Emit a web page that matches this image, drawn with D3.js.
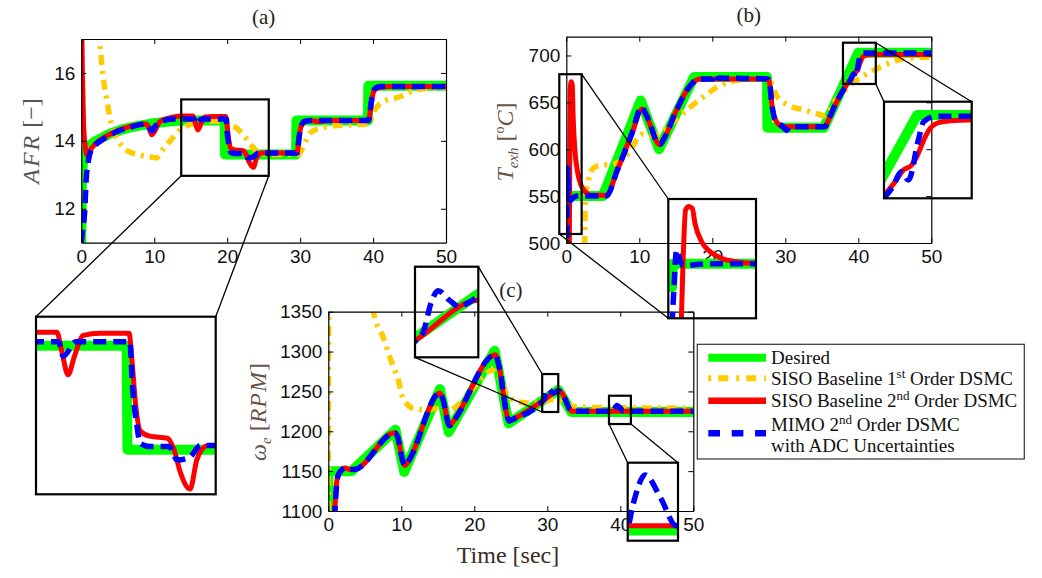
<!DOCTYPE html>
<html><head><meta charset="utf-8">
<script src="https://cdn.jsdelivr.net/npm/d3@7"></script>
<style>
body{margin:0;background:#fff;}
svg{display:block;}
.tick text{font-family:"Liberation Sans",Arial,sans-serif;font-size:19px;fill:#111;}
</style></head><body>
<svg id="chart" width="1042" height="578"></svg>
<script>
// ---------------- DATA ----------------
const timeTicks = [0,10,20,30,40,50];
const afrTicks = [12,14,16];
const texhTicks = [500,550,600,650,700];
const rpmTicks = [1100,1150,1200,1250,1300,1350];

// (a) AFR [-]
const afrDesired = [[0,11],[0.05,12.6],[0.2,13.3],[0.5,13.65],[1,13.85],[2,14.0],[4,14.22],[6,14.36],[8,14.45],[10,14.52],[12,14.57],[14,14.6],[19.65,14.6],[19.7,13.6],[29.45,13.6],[29.5,14.6],[39.3,14.6],[39.35,15.62],[50,15.62]];
const afrFirst = [[2.2,18],[2.5,17],[3.0,15.89],[3.5,15.2],[3.9,14.71],[4.5,14.25],[5.3,13.93],[6.2,13.72],[7.1,13.63],[8.5,13.56],[9.4,13.53],[10.3,13.5],[11.2,13.75],[12.2,14.0],[13.0,14.2],[13.75,14.37],[14.8,14.47],[15.8,14.52],[18.1,14.58],[19.5,14.55],[20.5,14.48],[21.7,14.3],[22.5,14.1],[23.1,13.93],[24,13.7],[25,13.62],[26,13.6],[29.8,13.6],[30.2,13.73],[30.8,14.0],[31.3,14.22],[32.7,14.37],[34.5,14.44],[36.8,14.47],[39.5,14.5],[40,14.81],[41.4,15.15],[43.7,15.3],[45.9,15.5],[48,15.55],[50,15.57]];
const afrSecond = [[0,18.5],[0.15,16.0],[0.3,14.6],[0.5,13.9],[0.82,13.58],[1.2,13.72],[2.0,13.93],[3,14.08],[4,14.2],[5,14.3],[6,14.38],[7,14.44],[8,14.48],[8.9,14.5],[9.3,14.38],[9.65,14.18],[10.1,14.3],[10.7,14.55],[11.5,14.64],[12.5,14.7],[14,14.73],[15.3,14.73],[15.6,14.55],[16.0,14.32],[16.4,14.5],[16.95,14.7],[18,14.72],[19.8,14.72],[19.98,14.46],[20.2,14.05],[20.5,13.78],[21.1,13.73],[22.2,13.71],[22.6,13.6],[23.0,13.38],[23.6,13.22],[24.04,13.51],[24.7,13.64],[25.5,13.64],[29.6,13.64],[29.8,14.0],[30.1,14.4],[30.6,14.56],[31.5,14.6],[32.5,14.57],[34,14.6],[39.4,14.6],[39.6,14.85],[39.9,15.3],[40.3,15.52],[41,15.58],[42,15.6],[50,15.6]];
const afrMimo = [[0,11.0],[0.2,11.4],[0.45,11.86],[0.67,12.85],[1.0,13.45],[1.26,13.68],[1.95,13.88],[3,14.05],[5,14.28],[7,14.42],[8.9,14.5],[9.3,14.38],[9.7,14.3],[10.2,14.45],[11,14.57],[12.5,14.64],[15.4,14.64],[15.7,14.5],[16.5,14.64],[19.85,14.64],[20.0,14.24],[20.3,13.82],[20.5,13.66],[21.1,13.63],[22.3,13.63],[22.8,13.5],[23.6,13.53],[24.25,13.64],[29.6,13.64],[29.8,14.0],[30.1,14.42],[30.6,14.57],[31.5,14.6],[39.4,14.6],[39.6,14.9],[39.9,15.35],[40.3,15.55],[41,15.6],[50,15.6]];

// (b) T_exh [C]
const texhDesired = [[0,500],[0.03,550],[5,550],[10.2,652],[12.7,600],[17.5,677],[27.5,677],[27.55,623],[35.3,623],[40,703],[50,703]];
const texhFirst = [[2.5,470],[2.6,546],[3.0,565],[3.5,578],[4.2,582],[6.0,584],[6.8,585],[8.3,594],[10.5,616],[12,614],[14.2,626],[16.5,642],[18.8,656],[20.6,666],[23.4,673.5],[26.5,675.5],[27.8,674],[28.8,657],[30.7,646],[32.5,642],[34.3,638],[35.3,636],[37,653],[39.3,671],[41.5,681.6],[44.3,692],[46.6,697],[50,698]];
const texhSecond = [[0.35,380],[0.45,560],[0.55,665],[0.68,672],[0.82,668],[0.93,636],[1.2,597],[1.54,576],[2.0,562],[2.55,555],[3.4,551],[5.5,551],[7,578],[9,617],[10.4,643],[11,635],[12.8,605],[13.5,613],[15,640],[17,668],[18.2,675],[27.6,675],[27.9,668],[28.1,652],[28.6,632],[29.7,624],[35.4,624],[36,633],[37,650],[38,664],[39.07,676.3],[39.42,681],[39.77,683],[39.98,686.3],[40.34,694.3],[40.55,697.7],[40.83,699.7],[41.4,700.7],[42.2,701],[50,701]];
const texhMimo = [[0,420],[0.08,500],[0.14,560],[0.2,580],[0.3,560],[0.5,545],[0.9,548],[1.5,550],[5.5,550],[7,578],[9,617],[10.3,645],[11,636],[12.8,605],[13.5,613],[15,640],[17,668],[18.2,675],[20.1,675],[20.4,680],[20.8,676],[27.6,675],[27.9,668],[28.1,652],[28.6,632],[29.7,624],[30.2,620],[30.6,624],[35.4,624],[36,633],[37,650],[38,664],[38.93,673.7],[39.35,680.3],[39.63,677],[40.05,693],[40.27,700.3],[40.8,702.5],[50,702.5]];

// (c) omega_e [RPM]
const rpmDesired = [[0,1100],[0.03,1150],[3.2,1150],[9.2,1202],[10.4,1149],[15.3,1253],[16.5,1199],[22.8,1301],[24.7,1210],[31.5,1252],[33.3,1224.3],[50,1224.3]];
const rpmFirst = [[0,1100],[0.08,1420],[5.9,1420],[6.2,1350],[6.4,1341.6],[7.5,1318.6],[8.4,1293.6],[9.1,1276.8],[9.6,1264.3],[10.0,1247.6],[10.7,1235],[11.6,1228.7],[13.5,1226.7],[14.8,1228.7],[16.5,1226],[18,1235],[19.5,1250],[21,1266],[22.5,1277],[23.5,1266],[24.5,1246],[26,1237],[28,1235],[31,1240],[33,1232],[35,1230],[50,1229]];
const rpmSecond = [[0.85,1090],[0.95,1110],[1.1,1132],[1.3,1143],[1.7,1150],[2.3,1154],[3.0,1152],[3.5,1152],[9.1,1198],[9.5,1193],[10.0,1170],[10.5,1157],[11,1163],[15.3,1248],[15.7,1240],[16.6,1207],[17,1211],[22.9,1296],[23.3,1285],[24.8,1213],[25.3,1215],[29.35,1237.8],[31.5,1250],[31.9,1249],[33.4,1225],[50,1225]];
const rpmMimo = [[0.85,1090],[1.0,1115],[1.2,1138],[1.4,1146],[1.7,1150],[2.3,1154],[3.0,1152],[3.5,1152],[9.1,1198],[9.5,1193],[10.0,1170],[10.5,1157],[11,1163],[15.3,1248],[15.7,1240],[16.6,1207],[17,1211],[22.9,1296],[23.3,1285],[24.8,1213],[25.3,1215],[29.35,1237.8],[29.6,1240.5],[29.85,1249],[30.1,1253],[30.5,1250],[30.85,1248],[31.2,1249.5],[31.5,1251],[31.9,1249],[33.4,1225],[39.05,1225],[39.2,1228],[39.55,1232.3],[40.0,1229],[40.45,1225],[50,1225]];

const seriesNames = ["Desired","SISO Baseline 1st Order DSMC","SISO Baseline 2nd Order DSMC","MIMO 2nd Order DSMC with ADC Uncertainties"];

// ---------------- STYLES / LAYOUT ----------------
const styles = [
  {color:"#00ff00", width:10, dash:null, curve:d3.curveLinear},
  {color:"#ffcc00", width:5.5, dash:"10,6,3,6", curve:d3.curveMonotoneX},
  {color:"#ff0000", width:5, dash:null, curve:d3.curveMonotoneX},
  {color:"#0000ff", width:5.5, dash:"13,7", curve:d3.curveMonotoneX}
];
const svg = d3.select("#chart");
const defs = svg.append("defs");
const serif = '"Liberation Serif","DejaVu Serif",serif';
const fmt = d3.format("d");

function drawSeries(g, data, x, y, skip){
  data.forEach((d,i)=>{
    if(skip && skip.includes(i)) return;
    const s = styles[i];
    const line = d3.line().x(p=>x(p[0])).y(p=>y(p[1])).curve(s.curve);
    g.append("path").datum(d).attr("d", line).attr("fill","none")
      .attr("stroke", s.color).attr("stroke-width", s.width)
      .attr("stroke-linejoin","round").attr("stroke-linecap", s.dash? "butt":"round")
      .attr("stroke-dasharray", s.dash);
  });
}

function makePanel(p){
  const x = d3.scaleLinear().domain([0,50]).range([p.left,p.right]);
  const y = d3.scaleLinear().domain(p.yDomain).range([p.bottom,p.top]);
  const id = "clip-"+p.id;
  defs.append("clipPath").attr("id",id).append("rect")
    .attr("x",p.left).attr("y",p.top).attr("width",p.right-p.left).attr("height",p.bottom-p.top);
  const g = svg.append("g");
  drawSeries(g.append("g").attr("clip-path",`url(#${id})`), p.data, x, y);
  const ax = g.append("g");
  ax.append("g").attr("transform",`translate(0,${p.bottom})`)
    .call(d3.axisBottom(x).tickValues(timeTicks).tickFormat(fmt).tickSizeInner(-5).tickSizeOuter(0).tickPadding(7));
  ax.append("g").attr("transform",`translate(0,${p.top})`)
    .call(d3.axisTop(x).tickValues(timeTicks).tickSizeInner(-5).tickSizeOuter(0).tickFormat(""));
  ax.append("g").attr("transform",`translate(${p.left},0)`)
    .call(d3.axisLeft(y).tickValues(p.yTicks).tickFormat(fmt).tickSizeInner(-5).tickSizeOuter(0).tickPadding(6));
  ax.append("g").attr("transform",`translate(${p.right},0)`)
    .call(d3.axisRight(y).tickValues(p.yTicks).tickSizeInner(-5).tickSizeOuter(0).tickFormat(""));
  ax.selectAll(".domain").attr("stroke","#000").attr("stroke-width",1.2);
  ax.selectAll(".tick line").attr("stroke","#000");
  svg.append("text").attr("x",(p.left+p.right)/2).attr("y",p.titleY)
    .attr("text-anchor","middle").attr("font-family",serif).attr("font-size",21).attr("fill","#222")
    .text(p.title);
  return {x,y,p};
}

function makeInset(panel, ins){
  const P = panel;
  const rx0 = P.x(ins.rectX[0]), rx1 = P.x(ins.rectX[1]);
  const ry0 = P.y(ins.rectY[1]), ry1 = P.y(ins.rectY[0]);
  const [bx0,by0,bx1,by1] = ins.box;
  const x = d3.scaleLinear().domain(ins.xDomain).range([bx0,bx1]);
  const y = d3.scaleLinear().domain(ins.yDomain).range([by1,by0]);
  const id = "clip-"+ins.id;
  defs.append("clipPath").attr("id",id).append("rect")
    .attr("x",bx0).attr("y",by0).attr("width",bx1-bx0).attr("height",by1-by0);
  const g = svg.append("g");
  drawSeries(g.append("g").attr("clip-path",`url(#${id})`), P.p.data, x, y, [1]);
  g.append("rect").attr("x",bx0).attr("y",by0).attr("width",bx1-bx0).attr("height",by1-by0)
    .attr("fill","none").attr("stroke","#000").attr("stroke-width",2.2);
  g.append("rect").attr("x",rx0).attr("y",ry0).attr("width",rx1-rx0).attr("height",ry1-ry0)
    .attr("fill","none").attr("stroke","#000").attr("stroke-width",2.2);
  const corners = {
    rTL:[rx0,ry0], rTR:[rx1,ry0], rBL:[rx0,ry1], rBR:[rx1,ry1],
    bTL:[bx0,by0], bTR:[bx1,by0], bBL:[bx0,by1], bBR:[bx1,by1]
  };
  ins.links.forEach(([a,b])=>{
    g.append("line").attr("x1",corners[a][0]).attr("y1",corners[a][1])
      .attr("x2",corners[b][0]).attr("y2",corners[b][1])
      .attr("stroke","#000").attr("stroke-width",1.3);
  });
}

// panels
const A = makePanel({id:"a", left:81.3, right:446, top:39, bottom:242.7, yDomain:[11,17], yTicks:afrTicks,
  data:[afrDesired,afrFirst,afrSecond,afrMimo], title:"(a)", titleY:24});
const B = makePanel({id:"b", left:566.3, right:931.3, top:36.7, bottom:243, yDomain:[500,720], yTicks:texhTicks,
  data:[texhDesired,texhFirst,texhSecond,texhMimo], title:"(b)", titleY:22});
const C = makePanel({id:"c", left:328.3, right:693.3, top:311.7, bottom:511, yDomain:[1100,1350], yTicks:rpmTicks,
  data:[rpmDesired,rpmFirst,rpmSecond,rpmMimo], title:"(c)", titleY:297});

// insets
makeInset(A,{id:"ia", rectX:[13.7,25.7], rectY:[12.97,15.22], box:[36,316.7,215.7,494.3],
  xDomain:[14,25.2], yDomain:[13.17,14.88], links:[["rBL","bTL"],["rBR","bTR"]]});
makeInset(B,{id:"ib1", rectX:[-0.96,2.1], rectY:[509.6,680], box:[668.3,199,756,318.3],
  xDomain:[-0.15,3.4], yDomain:[434,688], links:[["rTR","bTL"],["rBL","bBL"]]});
makeInset(B,{id:"ib2", rectX:[37.9,42.4], rectY:[669.6,713.6], box:[884,101.7,971.7,198.3],
  xDomain:[38.6,42.3], yDomain:[669.7,708.3], links:[["rTR","bTR"],["rBR","bTL"]]});
makeInset(C,{id:"ic1", rectX:[29.3,31.5], rectY:[1224.2,1271.8], box:[415,266.7,478.3,357.3],
  xDomain:[29.3,31.5], yDomain:[1232.4,1260.4], links:[["bTR","rTL"],["bBL","rBL"]]});
makeInset(C,{id:"ic2", rectX:[38.45,41.45], rectY:[1209.1,1244.6], box:[627.7,462.7,678,540.7],
  xDomain:[39.05,40.5], yDomain:[1222.85,1234.06], links:[["rBL","bTL"],["rBR","bTR"]]});

// axis labels
function ylabel(x, y, color, parts){
  const t = svg.append("text").attr("transform",`translate(${x},${y}) rotate(-90)`)
    .attr("text-anchor","middle").attr("font-family",serif).attr("font-size",24).attr("fill",color);
  parts.forEach(pt=>{
    const s = t.append("tspan").text(pt.t);
    if(pt.i) s.attr("font-style","italic");
    if(pt.fs) s.attr("font-size",pt.fs);
    if(pt.dy) s.attr("dy",pt.dy);
    if(pt.ls) s.attr("letter-spacing",pt.ls);
  });
}
ylabel(39, 141, "#555", [{t:"AFR",i:1,ls:2},{t:" [−]"}]);
ylabel(513, 142, "#6b5548", [{t:"T",i:1},{t:"exh",i:1,fs:15,dy:5},{t:" [",dy:-5},{t:"o",fs:14,dy:-9},{t:"C",i:1,dy:9},{t:"]"}]);
ylabel(266, 412, "#6b5548", [{t:"ω",i:1},{t:"e",i:1,fs:15,dy:5},{t:" [",dy:-5},{t:"RPM",i:1,ls:1},{t:"]"}]);
svg.append("text").attr("x",508).attr("y",563).attr("text-anchor","middle")
  .attr("font-family",serif).attr("font-size",24).attr("fill","#3a2c24").text("Time [sec]");

// legend
const lg = svg.append("g");
lg.append("rect").attr("x",697.3).attr("y",344.3).attr("width",327).attr("height",114.7)
  .attr("fill","#fff").attr("stroke","#333").attr("stroke-width",1.2);
const legendRows = [357.7,378.3,400.7,433.3];
const legendDash = [null,"3,7,10,8",null,"11.7,11.7"];
const legendWidth = [8,6,6.5,6.5];
seriesNames.forEach((name,i)=>{
  lg.append("line").attr("x1",708.3).attr("x2",766).attr("y1",legendRows[i]).attr("y2",legendRows[i])
    .attr("stroke",styles[i].color).attr("stroke-width",legendWidth[i]).attr("stroke-dasharray",legendDash[i]);
});
function legText(y, parts){
  const t = lg.append("text").attr("x",771).attr("y",y).attr("font-family",serif).attr("font-size",19).attr("fill","#111");
  parts.forEach(pt=>{ const s=t.append("tspan").text(pt.t); if(pt.fs) s.attr("font-size",pt.fs); if(pt.dy) s.attr("dy",pt.dy); });
}
legText(364,[{t:"Desired"}]);
legText(385,[{t:"SISO Baseline 1"},{t:"st",fs:13,dy:-7},{t:" Order DSMC",dy:7}]);
legText(407,[{t:"SISO Baseline 2"},{t:"nd",fs:13,dy:-7},{t:" Order DSMC",dy:7}]);
legText(430.5,[{t:"MIMO 2"},{t:"nd",fs:13,dy:-7},{t:" Order DSMC",dy:7}]);
legText(451.5,[{t:"with ADC Uncertainties"}]);
</script>
</body></html>
